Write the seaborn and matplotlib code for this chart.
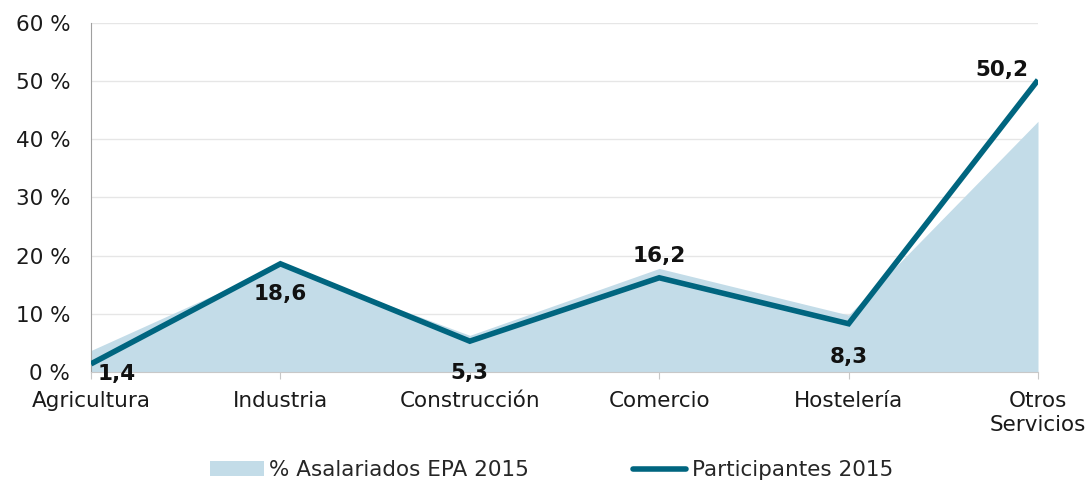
import matplotlib
matplotlib.use("Agg")
import matplotlib.pyplot as plt
import seaborn as sns
import numpy as np
import pandas as pd
from matplotlib.patches import Patch
from matplotlib.lines import Line2D

categories = ["Agricultura", "Industria", "Construcción", "Comercio", "Hostelería", "Otros\nServicios"]
asalariados_epa = [3.7, 18.4, 6.3, 17.8, 9.8, 43.1]
participantes = [1.4, 18.6, 5.3, 16.2, 8.3, 50.2]
value_labels = ["1,4", "18,6", "5,3", "16,2", "8,3", "50,2"]
y_ticks = [0, 10, 20, 30, 40, 50, 60]
y_tick_labels = ["0 %", "10 %", "20 %", "30 %", "40 %", "50 %", "60 %"]

sns.set_style("white")
plt.rcParams["font.family"] = ["DejaVu Sans"]

area_color = "#C3DCE8"
line_color = "#00657F"
FS = 15.5

fig = plt.figure(figsize=(10.86, 4.84), dpi=100)
ax = fig.add_axes([0.0838, 0.2314, 0.8720, 0.7211])

df = pd.DataFrame({"x": np.arange(len(categories)), "epa": asalariados_epa, "part": participantes})

ax.fill_between(df["x"], 0, df["epa"], color=area_color, linewidth=0, zorder=1)
sns.lineplot(data=df, x="x", y="part", ax=ax, color=line_color, linewidth=4.0, zorder=3,
             solid_joinstyle="miter", solid_capstyle="butt")

ax.set_xlim(0, len(categories) - 1)
ax.set_ylim(0, 60)
ax.set_yticks(y_ticks)
ax.set_yticklabels(y_tick_labels, fontsize=FS, color="#1a1a1a")
ax.set_xticks(df["x"])
ax.set_xticklabels(categories, fontsize=FS, color="#1a1a1a", linespacing=1.25)
ax.set_xlabel("")
ax.set_ylabel("")

ax.yaxis.grid(True, color="#e6e6e6", linewidth=1)
ax.set_axisbelow(True)
for s in ["top", "right"]:
    ax.spines[s].set_visible(False)
ax.spines["left"].set_color("#a0a0a0")
ax.spines["bottom"].set_color("#c8c8c8")
ax.tick_params(axis="x", length=5, color="#c8c8c8", pad=9, bottom=True)
ax.tick_params(axis="y", length=0, pad=15)

# data labels (offsets in points)
offsets = [(5, -7), (0, -22), (0, -23), (0, 16), (0, -24), (-7, 7)]
for i, (v, lab) in enumerate(zip(participantes, value_labels)):
    dx, dy = offsets[i]
    ha = "left" if i == 0 else ("right" if i == len(categories) - 1 else "center")
    ax.annotate(lab, (i, v), xytext=(dx, dy), textcoords="offset points",
                ha=ha, va="center", fontsize=FS, fontweight="bold", color="#111111",
                annotation_clip=False, zorder=5)

handles = [Patch(facecolor=area_color, edgecolor="none"),
           Line2D([0], [0], color=line_color, linewidth=4.0)]
fig.legend(handles, ["% Asalariados EPA 2015", "Participantes 2015"], loc="center",
           bbox_to_anchor=(0.508, 0.028), ncol=2, frameon=False, fontsize=FS,
           handlelength=2.5, handletextpad=0.25, columnspacing=4.8)

fig.savefig("out.png", dpi=100)
